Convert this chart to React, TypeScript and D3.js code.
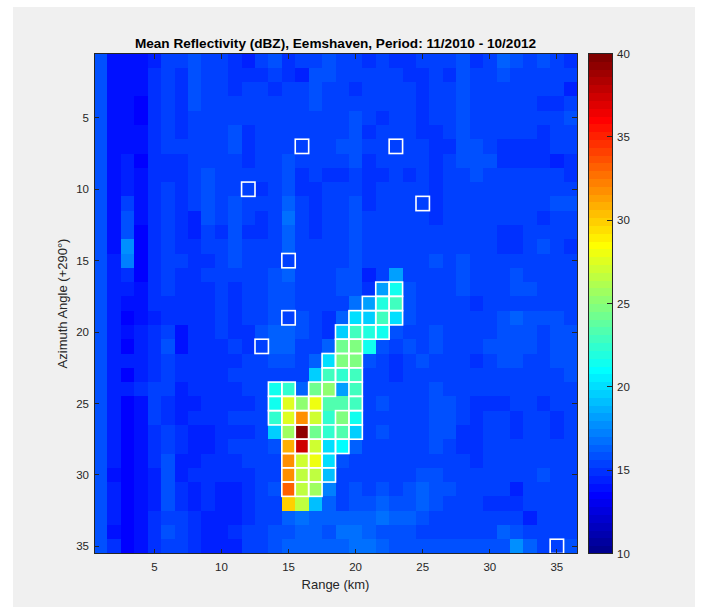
import React from "react";
import * as d3 from "d3";

// ---- data (rows = azimuth 1..35, cols = range 1..36), dBZ ----
const reflectivity: number[][] = [
  [15.9,14.0,14.0,14.0,14.5,15.4,15.4,15.9,15.4,15.4,14.9,14.5,15.4,15.9,14.9,15.4,15.4,15.9,15.4,15.4,14.9,15.4,14.9,14.9,15.4,15.4,15.4,15.9,14.9,15.4,16.3,15.9,15.4,15.9,15.4,14.9],
  [15.9,14.0,14.0,14.0,14.9,15.4,14.9,15.9,15.4,15.4,14.9,14.9,14.9,15.4,14.9,14.5,15.9,15.9,15.4,15.4,15.4,15.4,15.4,14.9,14.9,15.4,14.9,15.9,15.4,15.4,15.9,15.4,15.4,15.4,15.4,15.4],
  [15.9,14.0,14.0,14.0,14.9,15.4,14.9,15.9,15.4,15.4,14.9,15.4,15.4,14.9,15.4,15.4,15.9,15.4,15.4,14.9,15.4,15.4,15.4,15.4,14.9,15.4,15.4,15.9,15.4,15.4,15.4,15.4,15.4,15.4,15.4,14.5],
  [15.9,14.0,14.0,13.5,14.9,15.4,14.9,15.9,15.4,15.4,15.4,15.4,15.4,15.4,15.4,15.4,15.9,15.4,15.4,15.4,15.4,15.4,15.4,15.4,14.9,15.4,15.4,15.9,15.4,15.4,15.4,15.4,15.4,14.9,14.9,15.4],
  [15.9,14.0,14.0,13.5,14.9,15.4,14.9,15.4,15.4,15.4,15.4,15.4,15.4,15.4,15.4,15.4,15.4,15.4,15.4,15.9,15.4,14.9,15.4,15.4,14.9,15.4,15.4,15.9,15.4,15.4,15.4,15.4,15.4,15.4,15.4,15.9],
  [15.9,14.0,14.0,14.0,14.9,15.4,14.9,15.4,15.4,15.4,15.9,14.9,15.4,15.4,15.4,15.4,15.4,15.4,15.4,15.9,14.9,15.4,15.4,15.4,14.9,14.9,15.4,15.9,15.4,15.4,15.4,15.4,15.4,14.9,15.4,15.4],
  [15.9,14.0,14.0,14.0,14.9,15.4,15.4,15.4,15.4,15.4,15.9,14.9,15.4,15.4,15.4,15.4,15.4,15.4,15.9,15.9,15.4,15.4,15.4,15.4,15.4,14.9,14.9,15.9,15.9,15.4,14.9,14.9,14.9,14.9,15.4,15.4],
  [15.9,14.0,14.5,13.5,14.9,14.9,14.9,15.4,15.4,15.4,15.4,14.9,15.4,15.4,15.9,15.4,15.4,15.4,15.4,15.9,14.9,15.4,15.4,15.4,15.4,14.9,15.4,15.9,15.9,15.9,14.9,14.9,14.9,14.9,14.5,14.9],
  [15.9,14.0,14.5,14.0,14.9,14.9,14.9,15.4,15.9,15.4,15.4,15.4,15.4,15.4,15.9,14.9,15.4,14.9,14.9,15.4,14.9,14.9,15.4,14.9,15.4,14.9,15.4,15.4,15.9,15.4,15.4,15.4,15.4,15.4,15.4,14.9],
  [15.9,14.0,14.5,14.0,14.9,15.4,14.9,15.4,15.9,15.4,15.4,15.4,14.9,15.4,15.9,14.9,14.9,15.4,15.4,15.4,14.9,15.4,15.4,15.4,15.4,14.9,15.4,15.4,15.4,15.4,15.4,15.4,15.4,15.4,15.4,15.4],
  [15.9,14.0,15.4,14.0,14.9,15.4,14.9,15.4,15.9,15.4,15.9,15.4,15.4,15.4,16.3,15.4,14.9,15.4,15.4,15.9,14.9,15.4,15.4,15.4,15.4,14.9,15.4,15.4,15.4,15.4,15.4,15.4,15.4,15.4,15.9,15.9],
  [15.9,14.0,15.9,14.0,14.9,15.4,14.9,14.5,15.9,15.4,15.9,15.4,14.9,15.4,16.8,15.4,14.9,15.4,15.4,15.9,15.4,15.4,15.4,15.4,15.4,14.9,15.4,15.4,15.4,15.4,15.4,15.4,15.4,14.9,15.4,15.4],
  [15.9,14.0,15.9,13.5,14.9,15.4,14.9,14.5,15.4,14.9,15.9,14.9,14.9,15.4,16.3,15.4,14.9,15.4,15.4,15.9,15.4,15.4,15.4,15.4,15.4,15.4,15.4,15.4,15.4,15.4,14.9,14.9,15.4,15.4,15.4,15.4],
  [15.9,14.0,17.7,13.5,14.9,15.4,14.9,14.9,15.4,15.4,15.9,15.4,15.4,15.4,16.3,15.4,15.4,15.4,15.4,15.9,15.4,15.4,15.4,15.4,15.4,15.4,15.4,15.4,15.4,15.4,14.9,14.9,15.4,15.9,15.4,14.9],
  [15.9,14.5,17.3,13.5,14.9,15.4,15.4,14.9,14.9,15.4,15.9,15.4,15.4,15.4,15.4,15.4,15.4,15.4,15.4,15.9,15.4,15.4,15.4,15.4,15.4,15.9,15.4,15.9,15.4,15.4,15.4,15.4,15.4,15.4,15.4,15.4],
  [15.9,14.5,14.9,13.5,14.9,15.4,14.9,14.9,15.4,15.4,15.4,15.4,15.4,15.9,16.3,15.4,15.4,15.4,15.9,15.9,14.5,15.4,18.2,15.4,15.4,15.4,15.4,15.9,15.4,15.4,15.4,15.9,15.4,15.4,15.4,15.4],
  [15.9,14.5,14.5,14.0,14.9,15.4,14.9,14.9,14.9,15.4,14.9,15.4,15.4,15.9,15.9,15.4,15.4,15.4,15.9,15.9,14.9,18.4,21.6,15.9,15.4,15.4,15.4,15.9,15.4,15.4,15.4,15.9,15.9,15.4,15.4,15.4],
  [15.9,14.5,14.0,14.0,14.9,14.9,14.9,14.9,14.9,15.4,14.9,15.4,15.4,15.9,15.9,15.4,15.4,15.4,15.4,16.8,18.2,22.0,23.0,15.9,15.4,15.4,15.4,15.4,14.9,15.4,15.4,15.4,15.4,15.4,15.4,15.4],
  [15.9,14.5,13.5,14.0,14.5,14.9,14.9,14.9,14.9,15.4,14.9,15.4,15.4,15.9,15.4,15.9,15.4,14.9,16.3,20.3,19.5,23.0,20.3,15.9,15.4,15.4,15.4,15.4,15.4,15.4,15.9,16.3,15.9,15.9,15.9,15.4],
  [15.9,14.5,14.0,14.5,14.9,15.4,14.0,14.9,14.9,15.4,14.9,14.9,15.9,16.3,16.3,15.9,15.4,14.9,19.5,23.0,22.0,21.5,15.9,15.4,15.4,15.9,15.4,15.4,15.4,15.4,15.9,15.9,15.9,15.4,15.9,15.9],
  [15.9,14.5,13.5,14.5,14.9,15.9,14.0,14.9,14.9,14.9,15.4,14.9,15.4,16.3,16.3,15.4,15.4,16.3,24.3,24.8,21.5,15.9,15.4,15.9,15.4,15.9,15.4,15.4,15.4,15.9,15.9,15.9,15.9,15.4,15.9,15.9],
  [15.9,14.5,14.5,14.5,14.9,15.4,14.9,14.9,14.9,14.9,14.9,15.4,15.4,15.9,15.9,15.4,16.3,20.3,24.8,24.8,15.9,15.4,14.9,15.4,15.9,15.4,15.4,15.4,14.9,15.4,15.9,15.9,15.4,15.4,15.9,15.9],
  [15.9,14.5,13.5,14.5,14.9,15.4,14.9,14.9,14.9,14.9,15.4,15.4,15.4,15.4,15.4,15.4,19.5,23.0,22.4,22.9,15.4,15.4,14.9,15.4,15.4,15.4,15.4,15.4,15.4,15.4,15.4,15.4,15.4,15.4,15.4,15.9],
  [15.9,14.5,14.5,14.9,15.4,15.4,14.5,14.9,14.9,14.9,14.9,15.4,15.4,21.5,22.4,16.3,24.5,25.0,18.4,23.0,15.4,15.4,15.4,15.4,15.4,15.9,15.4,15.4,15.4,15.4,15.4,15.4,15.4,15.4,15.4,15.4],
  [15.9,14.5,13.5,14.0,15.4,14.9,14.5,14.5,14.9,14.9,14.9,14.9,15.4,21.3,27.6,25.3,28.1,23.4,23.4,22.9,15.4,15.9,15.4,15.4,15.4,15.9,15.9,15.4,14.9,14.9,14.9,15.4,15.4,14.9,15.4,15.4],
  [15.9,14.5,13.5,14.0,15.4,14.9,14.5,14.9,14.9,14.9,15.4,15.4,15.4,22.4,27.6,31.8,27.1,22.4,24.8,21.5,15.4,15.4,15.4,15.4,15.4,15.9,15.9,15.4,14.9,15.4,15.4,14.9,15.4,15.4,14.9,15.4],
  [15.9,14.5,13.5,14.0,14.9,15.4,14.9,14.5,14.5,14.9,14.9,14.9,15.4,19.8,25.7,39.3,24.3,22.4,23.4,19.5,15.4,15.9,15.4,15.4,15.4,15.9,15.9,14.9,14.9,15.4,15.4,14.9,15.4,15.4,14.9,15.4],
  [15.9,14.5,13.5,14.0,14.9,15.4,14.9,14.5,14.5,14.9,15.4,15.4,15.4,15.9,30.9,37.4,27.1,20.3,21.0,16.3,15.4,15.4,15.4,15.4,15.4,15.9,15.4,14.9,14.9,15.4,15.4,15.4,15.4,15.4,15.4,15.4],
  [15.9,14.5,13.5,14.0,14.9,15.9,14.5,14.5,14.9,14.9,14.9,15.4,15.4,15.4,31.8,27.1,28.1,20.1,15.9,15.4,15.4,15.4,15.4,15.4,15.4,15.4,15.4,15.4,14.9,15.4,15.4,15.4,15.4,15.4,15.4,15.4],
  [15.9,14.0,13.5,14.0,14.5,15.9,14.5,14.9,14.9,14.9,14.9,14.9,15.4,15.4,31.8,26.6,26.6,19.1,15.4,15.4,15.4,15.4,15.4,15.4,15.9,15.9,15.4,15.4,15.4,15.4,15.4,15.4,15.4,15.9,15.4,15.4],
  [15.9,14.5,13.5,14.0,14.5,15.9,14.9,14.5,14.9,14.5,14.5,14.9,15.4,15.9,33.2,26.6,25.7,17.3,15.4,15.9,15.4,15.9,15.4,15.9,16.3,15.9,15.9,15.4,15.4,15.4,15.4,14.5,15.4,15.4,15.4,15.4],
  [15.9,14.5,13.5,14.0,14.5,15.9,14.9,14.5,14.9,14.5,14.5,14.9,15.4,15.4,29.7,26.6,19.1,16.3,15.4,15.9,15.9,16.3,15.9,15.9,16.3,15.9,15.4,15.4,15.4,14.9,14.9,14.9,15.4,15.4,15.4,15.4],
  [15.9,14.5,13.5,14.0,14.9,15.4,15.4,14.9,14.5,14.5,14.5,14.9,15.4,15.4,16.3,16.8,16.3,16.3,16.3,16.3,16.3,16.8,16.3,16.3,15.9,15.4,15.4,15.4,15.4,15.4,15.4,15.4,14.5,15.4,15.4,15.4],
  [15.9,14.0,13.5,14.0,14.9,15.9,15.4,14.9,14.5,14.5,14.9,15.4,15.4,15.9,15.9,16.3,16.3,15.9,16.8,16.8,16.3,15.9,15.9,15.9,15.4,15.4,15.4,15.4,15.4,15.4,16.3,15.9,15.4,15.4,15.4,15.4],
  [15.9,14.9,13.5,14.0,14.9,15.4,15.4,14.9,14.5,14.5,14.5,15.4,15.4,15.9,16.3,16.3,16.3,16.3,16.3,16.8,16.8,16.3,15.9,15.9,15.9,15.9,15.9,15.9,15.9,15.9,15.9,17.7,16.3,15.4,15.4,15.9],
];

// outlined cells [range col, azimuth row]
const markedCells: [number, number][] = [
  [16, 7], [23, 7], [12, 10], [25, 11], [15, 15], [15, 19], [13, 21], [35, 35],
  [22, 17], [23, 17],
  [21, 18], [22, 18], [23, 18],
  [20, 19], [21, 19], [22, 19], [23, 19],
  [19, 20], [20, 20], [21, 20], [22, 20],
  [19, 21], [20, 21],
  [18, 22], [19, 22], [20, 22],
  [18, 23], [19, 23], [20, 23],
  [14, 24], [15, 24], [17, 24], [18, 24], [20, 24],
  [14, 25], [15, 25], [16, 25], [17, 25], [20, 25],
  [14, 26], [15, 26], [16, 26], [17, 26], [19, 26], [20, 26],
  [15, 27], [16, 27], [17, 27], [18, 27], [19, 27], [20, 27],
  [15, 28], [16, 28], [17, 28], [18, 28], [19, 28],
  [15, 29], [16, 29], [17, 29], [18, 29],
  [15, 30], [16, 30], [17, 30], [18, 30],
  [15, 31], [16, 31], [17, 31],
];

const xTicks = [5, 10, 15, 20, 25, 30, 35];
const yTicks = [5, 10, 15, 20, 25, 30, 35];
const cbTicks = [10, 15, 20, 25, 30, 35, 40];
const cRange: [number, number] = [10, 40];

const titleText = "Mean Reflectivity (dBZ), Eemshaven, Period: 11/2010 - 10/2012";
const xLabel = "Range (km)";
const yLabel = "Azimuth Angle (+290°)";

// MATLAB jet(64)
function jet(m: number): string[] {
  const n = Math.ceil(m / 4);
  const u: number[] = [];
  for (let i = 1; i <= n; i++) u.push(i / n);
  for (let i = 0; i < n - 1; i++) u.push(1);
  for (let i = n; i >= 1; i--) u.push(i / n);
  const R = new Array(m).fill(0), G = new Array(m).fill(0), B = new Array(m).fill(0);
  const off = Math.ceil(n / 2) - (m % 4 === 1 ? 1 : 0);
  for (let i = 1; i <= u.length; i++) {
    const g = off + i, r = g + n, b = g - n;
    if (g >= 1 && g <= m) G[g - 1] = u[i - 1];
    if (r >= 1 && r <= m) R[r - 1] = u[i - 1];
    if (b >= 1 && b <= m) B[b - 1] = u[i - 1];
  }
  return R.map((_, i) => d3.rgb(R[i] * 255, G[i] * 255, B[i] * 255).formatHex());
}
const cmap = jet(64);
const colorOf = (v: number) => {
  const idx = Math.floor(((v - cRange[0]) / (cRange[1] - cRange[0])) * cmap.length);
  return cmap[Math.max(0, Math.min(cmap.length - 1, idx))];
};

export default function App() {
  const W = 702, H = 607;
  const L = 94, Rr = 577, T = 53.5, Bt = 553.5;
  const nCols = reflectivity[0].length, nRows = reflectivity.length;
  const x = d3.scaleLinear().domain([0.5, nCols + 0.5]).range([L, Rr]);
  const y = d3.scaleLinear().domain([0.5, nRows + 0.5]).range([T, Bt]);
  const cbL = 588, cbR = 612;
  const cy = d3.scaleLinear().domain(cRange).range([Bt, T]);
  const axisColor = "#262626";
  const font = "'Liberation Sans', Arial, Helvetica, sans-serif";
  const tickLen = 5;
  const bands = d3.range(cmap.length);

  return (
    <svg width={W} height={H} style={{ position: "absolute", left: 0, top: 0 }} fontFamily={font}>
      <rect x={0} y={0} width={W} height={H} fill="#ffffff" />
      <rect x={13} y={7} width={682} height={600} fill="#f0f0f0" />
      <g shapeRendering="crispEdges">
        {reflectivity.map((row, ri) =>
          row.map((v, ci) => (
            <rect key={`${ri}-${ci}`} x={x(ci + 0.5)} y={y(ri + 0.5)}
              width={x(ci + 1.5) - x(ci + 0.5) + 0.5} height={y(ri + 1.5) - y(ri + 0.5) + 0.5}
              fill={colorOf(v)} />
          ))
        )}
      </g>
      <g>
        {markedCells.map(([c, r], i) => (
          <rect key={i} x={x(c - 0.5)} y={y(r - 0.5)} width={x(c + 0.5) - x(c - 0.5)}
            height={y(r + 0.5) - y(r - 0.5)} fill="none" stroke="#ffffff" strokeWidth={1.6} />
        ))}
      </g>
      {/* axes box */}
      <rect x={L} y={T} width={Rr - L} height={Bt - T} fill="none" stroke={axisColor} strokeWidth={1} shapeRendering="crispEdges" />
      <g stroke={axisColor} strokeWidth={1} shapeRendering="crispEdges">
        {xTicks.map((t) => (
          <g key={`xt${t}`}>
            <line x1={x(t)} x2={x(t)} y1={Bt} y2={Bt - tickLen} />
            <line x1={x(t)} x2={x(t)} y1={T} y2={T + tickLen} />
          </g>
        ))}
        {yTicks.map((t) => (
          <g key={`yt${t}`}>
            <line x1={L} x2={L + tickLen} y1={y(t)} y2={y(t)} />
            <line x1={Rr} x2={Rr - tickLen} y1={y(t)} y2={y(t)} />
          </g>
        ))}
      </g>
      <g fill={axisColor} fontSize={11.5}>
        {xTicks.map((t) => (
          <text key={`xl${t}`} x={x(t)} y={571} textAnchor="middle">{t}</text>
        ))}
        {yTicks.map((t) => (
          <text key={`yl${t}`} x={89} y={y(t) + 4} textAnchor="end">{t}</text>
        ))}
      </g>
      <text x={(L + Rr) / 2} y={589} textAnchor="middle" fontSize={13} fill={axisColor}>{xLabel}</text>
      <text transform={`translate(67,${(T + Bt) / 2}) rotate(-90)`} textAnchor="middle" fontSize={13} fill={axisColor}>{yLabel}</text>
      <text x={(L + Rr) / 2} y={47.5} textAnchor="middle" fontSize={13.6} fontWeight="bold" fill="#000000">{titleText}</text>
      {/* colorbar */}
      <g shapeRendering="crispEdges">
        {bands.map((i) => {
          const v0 = cRange[0] + (i * (cRange[1] - cRange[0])) / cmap.length;
          const v1 = cRange[0] + ((i + 1) * (cRange[1] - cRange[0])) / cmap.length;
          return <rect key={`cb${i}`} x={cbL} y={cy(v1)} width={cbR - cbL} height={cy(v0) - cy(v1) + 0.5} fill={cmap[i]} />;
        })}
      </g>
      <rect x={cbL} y={T} width={cbR - cbL} height={Bt - T} fill="none" stroke={axisColor} strokeWidth={1} shapeRendering="crispEdges" />
      <g stroke={axisColor} strokeWidth={1} shapeRendering="crispEdges">
        {cbTicks.slice(1, -1).map((t) => (
          <line key={`cbt${t}`} x1={cbR} x2={cbR - 5} y1={cy(t)} y2={cy(t)} />
        ))}
      </g>
      <g fill={axisColor} fontSize={11.5}>
        {cbTicks.map((t) => (
          <text key={`cbl${t}`} x={617} y={cy(t) + 4}>{t}</text>
        ))}
      </g>
    </svg>
  );
}
